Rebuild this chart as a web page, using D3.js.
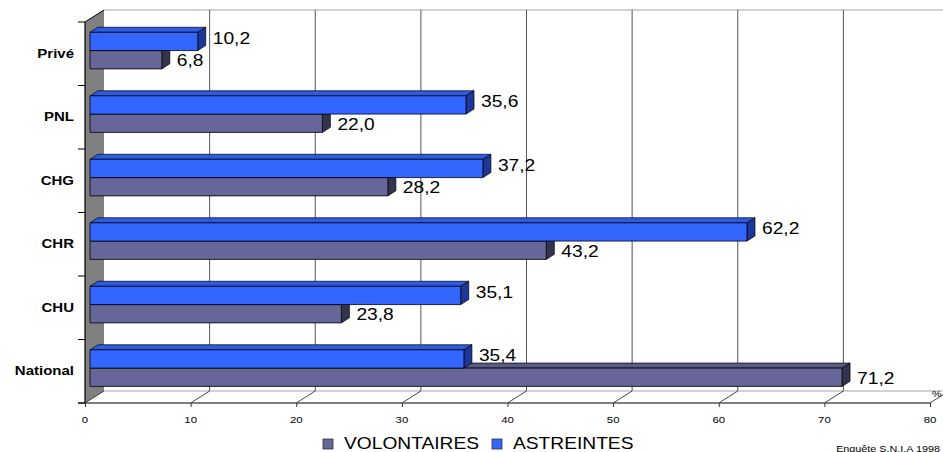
<!DOCTYPE html>
<html>
<head>
<meta charset="utf-8">
<script src="https://cdn.jsdelivr.net/npm/d3@7"></script>
<style>
  html, body { margin: 0; padding: 0; background: #fff; }
  svg { display: block; font-family: "Liberation Sans", Arial, sans-serif; }
</style>
</head>
<body>
<svg id="chart" width="943" height="452"></svg>
<script>
// Enquête S.N.I.A 1998 — astreintes et volontaires par type d'établissement (%)
const categories = ["Privé", "PNL", "CHG", "CHR", "CHU", "National"];
const seriesNames = ["ASTREINTES", "VOLONTAIRES"];
const astreintes  = [10.2, 35.6, 37.2, 62.2, 35.1, 35.4];
const volontaires = [6.8, 22.0, 28.2, 43.2, 23.8, 71.2];
const xTicks = [0, 10, 20, 30, 40, 50, 60, 70, 80];
const legendOrder = ["VOLONTAIRES", "ASTREINTES"];

const values = { ASTREINTES: astreintes, VOLONTAIRES: volontaires };
const colors = {
  ASTREINTES:  { front: "#3366ff", top: "#2d5be6", side: "#1c3797" },
  VOLONTAIRES: { front: "#666699", top: "#5a5a88", side: "#34344f" }
};

// text is set slightly wide
const STRETCH = 1.2;
function label(parent, px, py, str) {
  return parent.append("text")
    .attr("transform", `translate(${px},${py}) scale(${STRETCH},1)`)
    .text(str);
}

const svg = d3.select("#chart");

// oblique projection: depth z in [0,1] shifts points right and up
const DX = 19, DY = -12;
const x = d3.scaleLinear().domain([0, 80]).range([85, 930]);
const y = d3.scaleBand().domain(categories).range([22, 403])
  .paddingInner(0.424).paddingOuter(0.212);
const ySub = d3.scaleBand().domain(seriesNames).range([0, y.bandwidth()]);
const zFront = 5 / 19, zBack = 13 / 19;
const P = (v, yy, z) => [x(v) + z * DX, yy + z * DY];

const decimal = d3.formatLocale({ decimal: ",", thousands: " ", grouping: [3], currency: ["", " €"] }).format(".1f");

const x0 = x(0), x80 = x(80), yTop = 22, yBot = 403;

// left wall
svg.append("path")
  .attr("d", `M${x0},${yTop}L${x0 + DX},${yTop + DY}L${x0 + DX},${yBot + DY}L${x0},${yBot}Z`)
  .attr("fill", "#808080").attr("stroke", "none");
svg.append("line").attr("x1", x0).attr("y1", yTop).attr("x2", x0 + DX).attr("y2", yTop + DY)
  .attr("stroke", "#000").attr("stroke-width", 1);

// back wall border (top) and floor back edge
svg.append("line").attr("x1", x0 + DX).attr("y1", yTop + DY).attr("x2", x80 + DX).attr("y2", yTop + DY)
  .attr("stroke", "#a6a6a6").attr("stroke-width", 1.2);
svg.append("line").attr("x1", x0 + DX).attr("y1", yBot + DY).attr("x2", x80 + DX).attr("y2", yBot + DY)
  .attr("stroke", "#a6a6a6").attr("stroke-width", 1.2);

// back-wall gridlines
svg.append("g").selectAll("line").data(xTicks.filter(t => t > 0)).join("line")
  .attr("x1", d => x(d) + DX).attr("x2", d => x(d) + DX)
  .attr("y1", yTop + DY).attr("y2", yBot + DY)
  .attr("stroke", "#555").attr("stroke-width", 1);

// floor gridlines
svg.append("g").selectAll("line").data(xTicks).join("line")
  .attr("x1", d => x(d)).attr("y1", yBot)
  .attr("x2", d => x(d) + DX).attr("y2", yBot + DY)
  .attr("stroke", "#333").attr("stroke-width", 0.9);

// front value axis
const xAxis = svg.append("g").attr("transform", `translate(0,${yBot})`)
  .call(d3.axisBottom(x).tickValues(xTicks).tickSize(4).tickFormat(""));
xAxis.select(".domain").attr("stroke", "#555").attr("stroke-width", 1.3).attr("d", `M${x0 - 7},0H${x80}`);
xAxis.selectAll(".tick line").attr("stroke", "#333");
const tickLabels = svg.append("g").attr("font-size", 9.5).attr("text-anchor", "middle");
xTicks.forEach(t => label(tickLabels, x(t), yBot + 20, d3.format("d")(t)));

// category axis
const catTicks = d3.range(categories.length + 1).map(i => yTop + i * y.step());
svg.append("line").attr("x1", x0).attr("x2", x0).attr("y1", yTop).attr("y2", yBot)
  .attr("stroke", "#000").attr("stroke-width", 1.2);
svg.append("g").selectAll("line").data(catTicks).join("line")
  .attr("x1", x0 - 7).attr("x2", x0).attr("y1", d => d).attr("y2", d => d)
  .attr("stroke", "#000").attr("stroke-width", 1);
const catLabels = svg.append("g").attr("font-size", 12.5).attr("font-weight", "bold")
  .attr("text-anchor", "end").attr("dominant-baseline", "central");
categories.forEach(c => label(catLabels, x0 - 11, y(c) + y.bandwidth() / 2, c));

// bars: draw lower categories first, lower series first
const bars = [];
categories.forEach((c, i) => {
  seriesNames.forEach(s => bars.push({ cat: c, series: s, value: values[s][i], order: -i * 10 + (s === "VOLONTAIRES" ? 0 : 1) }));
});
bars.sort((a, b) => a.order - b.order);

const barG = svg.append("g");
const poly = pts => "M" + pts.map(p => p.join(",")).join("L") + "Z";
bars.forEach(b => {
  const t = y(b.cat) + ySub(b.series), bt = t + ySub.bandwidth();
  const col = colors[b.series];
  const g = barG.append("g");
  const f00 = P(0, t, zFront), f10 = P(b.value, t, zFront), f11 = P(b.value, bt, zFront), f01 = P(0, bt, zFront);
  const b00 = P(0, t, zBack), b10 = P(b.value, t, zBack), b11 = P(b.value, bt, zBack);
  g.append("path").attr("d", poly([f00, f10, b10, b00])).attr("fill", col.top)
    .attr("stroke", "#000").attr("stroke-width", 0.7).attr("stroke-linejoin", "round");
  g.append("path").attr("d", poly([f10, b10, b11, f11])).attr("fill", col.side)
    .attr("stroke", "#000").attr("stroke-width", 0.7).attr("stroke-linejoin", "round");
  g.append("path").attr("d", poly([f00, f10, f11, f01])).attr("fill", col.front)
    .attr("stroke", "#000").attr("stroke-width", 0.8);
  // value label
  const mid = (t + bt) / 2;
  const ly = b.series === "ASTREINTES" ? mid + zFront * DY - 3 : mid + zFront * DY + 1;
  label(g, b10[0] + 7, ly, decimal(b.value))
    .attr("dominant-baseline", "central").attr("font-size", 16).attr("fill", "#000");
});

// unit label at the end of the floor
label(svg, x80 + 2, yBot - 6, "%").attr("font-size", 9);

// legend
const legend = svg.append("g");
const legendX = [323, 492];
legendOrder.forEach((s, i) => {
  legend.append("rect").attr("x", legendX[i]).attr("y", 439).attr("width", 10).attr("height", 10)
    .attr("fill", colors[s].front).attr("stroke", "#333").attr("stroke-width", 0.8);
  label(legend, legendX[i] + 21, 449, s).attr("font-size", 16);
});

// source
label(svg, 940, 451.5, "Enquête S.N.I.A 1998").attr("text-anchor", "end").attr("font-size", 9);
</script>
</body>
</html>
